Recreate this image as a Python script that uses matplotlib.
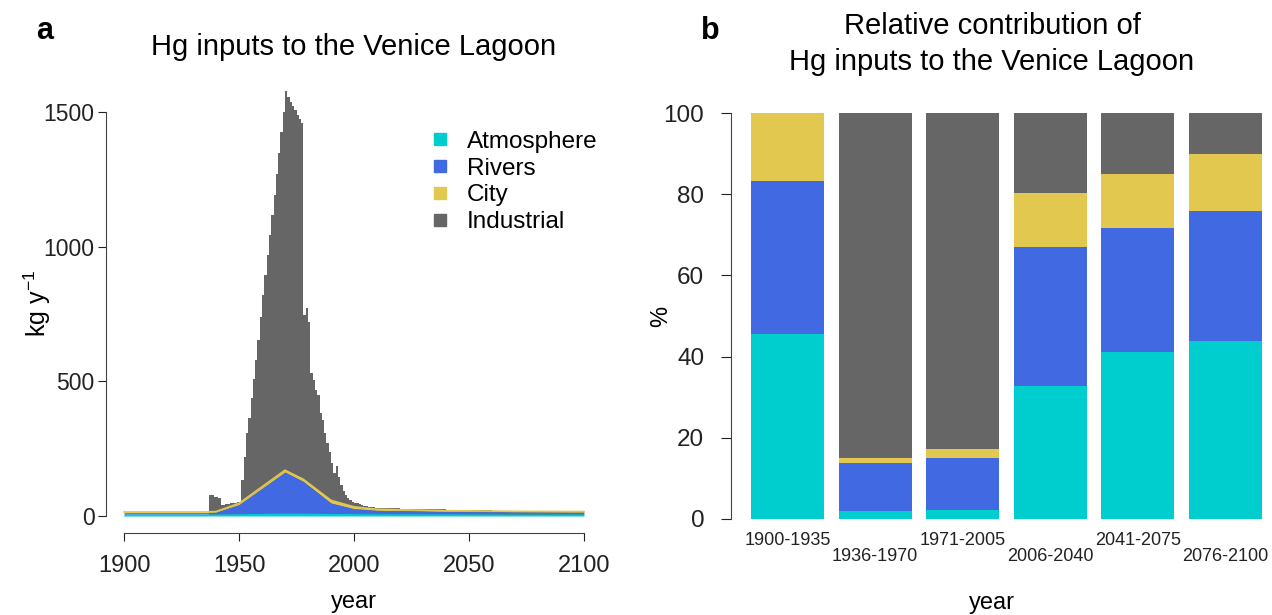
import numpy as np
import matplotlib
matplotlib.use("Agg")
import matplotlib.pyplot as plt
from matplotlib.lines import Line2D

plt.rcParams['font.family'] = ['Liberation Sans', 'DejaVu Sans']
plt.rcParams['mathtext.fontset'] = 'custom'
plt.rcParams['mathtext.rm'] = 'Liberation Sans'
plt.rcParams['mathtext.it'] = 'Liberation Sans:italic'

# colours for the four sources
col_atm = '#00CDCD'
col_riv = '#4169E1'
col_city = '#E2C84E'
col_ind = '#666666'

# panel a: diffuse sources at key years (kg/y, layer thickness)
src_years = [1900, 1935, 1940, 1950, 1970, 1978, 1990, 2000, 2010, 2040, 2070, 2100]
atmosphere = [7, 7, 7.5, 8.5, 11, 10.5, 9.5, 9, 8.5, 8, 7.5, 7.5]
rivers = [5.5, 5.5, 6.5, 33.5, 152, 117.5, 38.5, 18, 12.5, 9, 7.5, 6.5]
city = [2.5, 2.5, 2.5, 5, 7, 8, 10, 7, 4, 3, 2.5, 2.5]

# panel a: total input incl. industrial discharges (kg/y), yearly then by decade
total_edges = list(range(1937, 2011)) + list(range(2020, 2101, 10))
total_kg = [78, 78, 70, 69, 68,
            41, 42, 44, 45, 47, 48, 50, 51, 53,
            134, 219, 308, 364, 438, 509, 579, 653, 739, 820,
            895, 969, 1043, 1117, 1192, 1269, 1347, 1425, 1499, 1577,
            1555, 1536, 1521, 1507, 1488, 1473, 1458,
            746, 772, 719, 531, 505, 468, 449, 382, 356, 308, 271, 236,
            197, 160, 185, 145, 115, 93, 78, 67, 58, 53,
            50, 47, 44, 41, 38, 36, 34, 33, 32, 31,
            29, 27, 25, 23, 21, 20, 19, 18.5, 18]

# panel b: relative contribution per period (%)
periods = ['1900-1935', '1936-1970', '1971-2005', '2006-2040', '2041-2075', '2076-2100']
pct_atmosphere = [45.6, 1.9, 2.3, 32.8, 41.2, 43.8]
pct_rivers = [37.7, 11.8, 12.8, 34.1, 30.5, 32.0]
pct_city = [16.7, 1.4, 2.2, 13.3, 13.3, 14.2]
pct_industrial = [0.0, 84.9, 82.7, 19.8, 15.0, 10.0]

W, H = 1272, 615
fig = plt.figure(figsize=(W / 100, H / 100), dpi=100)

# ---- panel a ----
ax1 = fig.add_axes([105.6 / W, 82 / H, 496.8 / W, 458.7 / H])
ax1.stairs(total_kg, total_edges, fill=True, color=col_ind, lw=0)

yrs = np.array(src_years)
a = np.array(atmosphere)
r = a + np.array(rivers)
c = r + np.array(city)
ax1.fill_between(yrs, r, c, color=col_city, lw=0)
ax1.plot(yrs, c, color=col_city, lw=1.2)
ax1.fill_between(yrs, a, r, color=col_riv, lw=0)
ax1.fill_between(yrs, 0, a, color=col_atm, lw=0)

ax1.set_xlim(1892, 2108)
ax1.set_ylim(-63.1, 1640.1)
ax1.set_xticks([1900, 1950, 2000, 2050, 2100])
ax1.set_yticks([0, 500, 1000, 1500])
for s in ['top', 'right']:
    ax1.spines[s].set_visible(False)
ax1.spines['left'].set_bounds(0, 1500)
ax1.spines['bottom'].set_bounds(1900, 2100)
ax1.tick_params(length=6, width=0.8, labelsize=17, colors='#222222')
ax1.tick_params(axis='x', pad=10)
ax1.tick_params(axis='y', pad=2, labelsize=16.5)
for s in ['left', 'bottom']:
    ax1.spines[s].set_color('#444444')
ax1.set_xlabel('year', fontsize=17, labelpad=10)
ax1.set_ylabel('kg y$^{-1}$', fontsize=18, labelpad=-7)
ax1.set_title('Hg inputs to the Venice Lagoon', fontsize=21, pad=14)

handles = [Line2D([], [], ls='none', marker='s', markersize=9, color=cl)
           for cl in [col_atm, col_riv, col_city, col_ind]]
ax1.legend(handles, ['Atmosphere', 'Rivers', 'City', 'Industrial'],
           loc='upper left', bbox_to_anchor=(418 / W, 1 - 121 / H),
           bbox_transform=fig.transFigure, frameon=False, fontsize=17.5,
           handletextpad=0.6, labelspacing=0.2, handlelength=1.0,
           borderaxespad=0)

# ---- panel b ----
ax2 = fig.add_axes([730.6 / W, 79.8 / H, 551.8 / W, 438.4 / H])
x = 0.7 + 1.2 * np.arange(len(periods))
bottom = np.zeros(len(periods))
for vals, cl in [(pct_atmosphere, col_atm), (pct_rivers, col_riv),
                 (pct_city, col_city), (pct_industrial, col_ind)]:
    ax2.bar(x, vals, width=1.0, bottom=bottom, color=cl, lw=0)
    bottom += np.array(vals)

ax2.set_xlim(-0.08, 7.48)
ax2.set_ylim(-4, 104)
ax2.set_yticks([0, 20, 40, 60, 80, 100])
ax2.set_xticks([])
for s in ['top', 'right', 'bottom']:
    ax2.spines[s].set_visible(False)
ax2.spines['left'].set_bounds(0, 100)
ax2.spines['left'].set_color('#444444')
ax2.tick_params(length=7, width=0.8, labelsize=17.5, colors='#222222', pad=12)
ax2.set_ylabel('%', fontsize=17, labelpad=-6)

# staggered period labels under the bars
for i, (xi, lab) in enumerate(zip(x, periods)):
    ax2.text(xi, -5.2 if i % 2 == 0 else -9.2, lab, ha='center', va='center',
             fontsize=13, color='#222222', clip_on=False)

fig.text(992 / W, 1 - 603 / H, 'year', ha='center', va='center', fontsize=17)
fig.text(992 / W, 1 - 44 / H, 'Relative contribution of\nHg inputs to the Venice Lagoon',
         ha='center', va='center', fontsize=21, linespacing=1.32)

fig.text(45 / W, 1 - 31 / H, 'a', ha='center', va='center', fontsize=22, fontweight='bold')
fig.text(710 / W, 1 - 31 / H, 'b', ha='center', va='center', fontsize=22, fontweight='bold')

fig.savefig('out.png', dpi=100)
